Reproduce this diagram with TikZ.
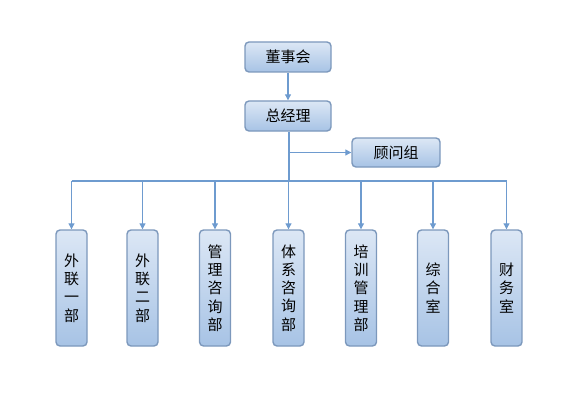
\documentclass[tikz,border=0pt]{standalone}
\usepackage{fontspec}
\setmainfont{Noto Sans CJK SC}
\usetikzlibrary{arrows.meta}
\definecolor{boxline}{HTML}{7C98BC}
\definecolor{boxtop}{HTML}{DCE7F5}
\definecolor{boxbot}{HTML}{A7C3E5}
\definecolor{conn}{HTML}{6E9BCF}
\begin{document}
\begin{tikzpicture}[x=1pt,y=-1pt,
  box/.style={draw=boxline,line width=1.4pt,rounded corners=4pt,top color=boxtop,bottom color=boxbot,
    inner sep=0pt,font=\fontsize{15}{18.3}\selectfont,align=center},
  hbox/.style={box,minimum width=86pt,minimum height=30pt},
  vbox/.style={box,minimum width=31pt,minimum height=116pt},
  conn/.style={draw=conn,line width=1.1pt},
  arr/.style={conn,-{Triangle[length=6pt,width=6pt]}}]
\useasboundingbox (0,0) rectangle (583,401);
\node[hbox] (board) at (288,57) {董事会};
\node[hbox] (gm) at (288,116) {总经理};
\node[hbox,minimum width=88pt,minimum height=29pt] (adv) at (396,152.5) {顾问组};
\coordinate (j) at (289,181);
\coordinate (ja) at (289,152.5);
\foreach \n/\x/\t in {d1/71.5/外\\联\\一\\部, d2/142.5/外\\联\\二\\部, d3/215/管\\理\\咨\\询\\部, d4/288.5/体\\系\\咨\\询\\部, d5/361/培\\训\\管\\理\\部, d6/433/综\\合\\室, d7/506.5/财\\务\\室}{
  \node[vbox] (\n) at (\x,288) {\t};
}
\draw[arr] (board) -- (gm);
\draw[conn] (gm.south -| j) -- (j);
\draw[arr] (ja) -- (adv);
\draw[conn] (d1.north |- j) -- (d7.north |- j);
\foreach \n in {d1,d2,d3,d4,d5,d6,d7}{
  \draw[arr] (\n.north |- j) -- (\n.north);
}
\end{tikzpicture}
\end{document}
